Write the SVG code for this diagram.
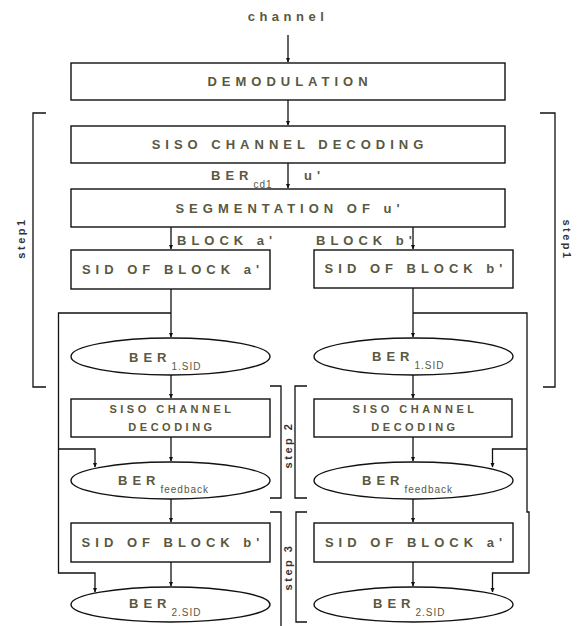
<svg xmlns="http://www.w3.org/2000/svg" width="581" height="626" viewBox="0 0 581 626">
<defs>
<marker id="ah" markerUnits="userSpaceOnUse" markerWidth="5" markerHeight="5" refX="4" refY="2.5" orient="auto">
<path d="M0,0.5 L4.5,2.5 L0,4.5 z" fill="#111"/>
</marker>
<style>
.box{fill:#fff;stroke:#111;stroke-width:1.4}
.ln{fill:none;stroke:#111;stroke-width:1.3}
.arr{fill:none;stroke:#111;stroke-width:1.3;marker-end:url(#ah)}
.t{font-family:"Liberation Sans",Arial,sans-serif;font-size:13px;font-weight:bold;fill:#5a5840;letter-spacing:5px}
.c{text-anchor:middle}
.s{font-size:10px;letter-spacing:1px;font-weight:normal}
.m{font-size:11px;letter-spacing:3.5px}
.st{font-family:"Liberation Sans",Arial,sans-serif;font-size:11px;font-weight:bold;fill:#333;letter-spacing:2.5px;text-anchor:middle}
</style>
</defs>
<rect width="581" height="626" fill="#fff"/>

<g id="brackets">
<path class="ln" d="M46,113 H33 V387 H46"/>
<path class="ln" d="M540,113 H555 V387 H543"/>
<path class="ln" d="M270,386 H281 V498 H270"/>
<path class="ln" d="M307,386 H295 V498 H307"/>
<path class="ln" d="M270,512 H281 V626"/>
<path class="ln" d="M307,512 H296 V622 H307"/>
<text class="st" transform="translate(21,238) rotate(-90)" dy="4">step1</text>
<text class="st" transform="translate(567,240) rotate(90)" dy="4">step1</text>
<text class="st" transform="translate(288,445) rotate(-90)" dy="4">step 2</text>
<text class="st" transform="translate(288,567) rotate(-90)" dy="4">step 3</text>
</g>

<g id="connectors">
<path class="arr" d="M288,35 V62"/>
<path class="arr" d="M288,100 V125"/>
<path class="arr" d="M288,163 V188"/>
<path class="arr" d="M171,227 V249"/>
<path class="arr" d="M413,227 V249"/>
<path class="arr" d="M171,289 V337"/>
<path class="arr" d="M413,288 V337"/>
<path class="arr" d="M171,375 V398"/>
<path class="arr" d="M413,375 V398"/>
<path class="arr" d="M171,437 V461"/>
<path class="arr" d="M413,437 V461"/>
<path class="arr" d="M171,499 V522"/>
<path class="arr" d="M413,499 V522"/>
<path class="arr" d="M171,562 V586"/>
<path class="arr" d="M413,562 V586"/>
<path class="arr" d="M171,313 H58.5 V573 H95 V592"/>
<path class="arr" d="M58.5,449 H95 V467"/>
<path class="arr" d="M413,313 H527 V512 H529 V573 H492.5 V592"/>
<path class="arr" d="M527,449 H492.5 V467"/>
</g>

<g id="channel"><text class="t c" x="288" y="21" style="letter-spacing:4.5px">channel</text></g>

<g id="demodulation">
<rect class="box" x="71" y="63" width="434" height="37"/>
<text class="t c" x="290" y="86">DEMODULATION</text>
</g>
<g id="siso-decoding">
<rect class="box" x="71" y="126" width="434" height="37"/>
<text class="t c" x="290" y="149">SISO CHANNEL DECODING</text>
</g>
<g id="ber-cd1">
<text class="t" x="211" y="180">BER<tspan class="s" dy="8">cd1</tspan></text>
<text class="t" x="304" y="180">u'</text>
</g>
<g id="segmentation">
<rect class="box" x="71" y="189" width="434" height="38"/>
<text class="t c" x="290" y="213">SEGMENTATION OF u'</text>
</g>
<g id="block-labels">
<text class="t" x="177" y="245">BLOCK a'</text>
<text class="t" x="316" y="245">BLOCK b'</text>
</g>
<g id="sid-a">
<rect class="box" x="71" y="250" width="199" height="39"/>
<text class="t c" x="173" y="274">SID OF BLOCK a'</text>
</g>
<g id="sid-b">
<rect class="box" x="314" y="250" width="199" height="38"/>
<text class="t c" x="416" y="273">SID OF BLOCK b'</text>
</g>
<g id="ber1-left">
<ellipse class="box" cx="170.5" cy="356.5" rx="99.5" ry="18.5"/>
<text class="t" x="129" y="362">BER<tspan class="s" dy="8">1.SID</tspan></text>
</g>
<g id="ber1-right">
<ellipse class="box" cx="413.5" cy="356.5" rx="99.5" ry="18.5"/>
<text class="t" x="372" y="361">BER<tspan class="s" dy="8">1.SID</tspan></text>
</g>
<g id="siso-left">
<rect class="box" x="71" y="399" width="199" height="38"/>
<text class="t c m" x="172" y="413">SISO CHANNEL</text>
<text class="t c m" x="172" y="431">DECODING</text>
</g>
<g id="siso-right">
<rect class="box" x="314" y="399" width="198" height="38"/>
<text class="t c m" x="415" y="413">SISO CHANNEL</text>
<text class="t c m" x="415" y="431">DECODING</text>
</g>
<g id="feedback-left">
<ellipse class="box" cx="170.5" cy="480.5" rx="99.5" ry="18.5"/>
<text class="t" x="118" y="485">BER<tspan class="s" dy="8">feedback</tspan></text>
</g>
<g id="feedback-right">
<ellipse class="box" cx="413.5" cy="480.5" rx="99.5" ry="18.5"/>
<text class="t" x="362" y="485">BER<tspan class="s" dy="8">feedback</tspan></text>
</g>
<g id="sid-b-lower">
<rect class="box" x="71" y="523" width="199" height="39"/>
<text class="t c" x="173" y="547">SID OF BLOCK b'</text>
</g>
<g id="sid-a-lower">
<rect class="box" x="314" y="523" width="199" height="39"/>
<text class="t c" x="416" y="547">SID OF BLOCK a'</text>
</g>
<g id="ber2-left">
<ellipse class="box" cx="170.5" cy="604.5" rx="99.5" ry="17.5"/>
<text class="t" x="129" y="608">BER<tspan class="s" dy="8">2.SID</tspan></text>
</g>
<g id="ber2-right">
<ellipse class="box" cx="413.5" cy="604.5" rx="99.5" ry="17.5"/>
<text class="t" x="373" y="608">BER<tspan class="s" dy="8">2.SID</tspan></text>
</g>
</svg>
